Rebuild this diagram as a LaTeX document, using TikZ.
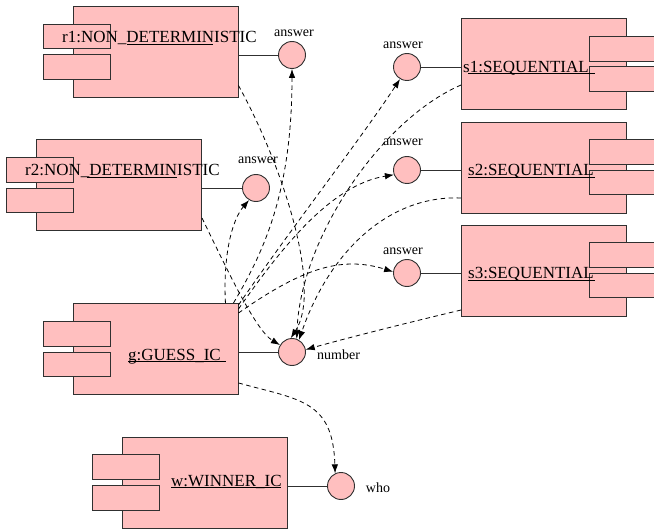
\documentclass[tikz,border=0pt]{standalone}
\usepackage{fontspec}
\setmainfont{Liberation Serif}
\usetikzlibrary{arrows.meta}
\definecolor{compfill}{HTML}{FFBFBF}
\definecolor{edgecol}{HTML}{303030}
\begin{document}
\begin{tikzpicture}[x=1pt,y=-1pt,
 comp/.style={draw=edgecol, fill=compfill, line width=0.9pt, rectangle, inner sep=0pt, minimum width=165pt, minimum height=91pt},
 tab/.style={draw=edgecol, fill=compfill, line width=0.9pt, rectangle, inner sep=0pt, minimum width=67pt, minimum height=24.5pt},
 rtab/.style={tab, minimum width=71pt},
 port/.style={draw=edgecol, fill=compfill, line width=0.9pt, circle, inner sep=0pt, minimum size=27pt},
 lbl/.style={font=\fontsize{17}{20}\selectfont, inner sep=0pt, anchor=base west},
 small/.style={font=\fontsize{14}{16}\selectfont, inner sep=0pt},
 wire/.style={draw=edgecol, line width=0.9pt},
 dep/.style={draw=black, line width=0.8pt, dash pattern=on 4.5pt off 3.5pt, -{Latex[length=9pt,width=6.5pt]}},
 uline/.style={draw=black, line width=0.8pt}]
\useasboundingbox (0,0) rectangle (654,532);
\fill[white] (0,0) rectangle (654,532);

% components
\node[comp] (r1) at (155.5,51.5) {};
\node[tab] (r1a) at (76.5,36.5) {};
\node[tab] (r1b) at (76.5,67) {};
\node[comp] (r2) at (119,185) {};
\node[tab] (r2a) at (40,170) {};
\node[tab] (r2b) at (40,200.5) {};
\node[comp] (s1) at (544,63.5) {};
\node[rtab] (s1a) at (624.5,49) {};
\node[rtab] (s1b) at (624.5,79) {};
\node[comp] (s2) at (544,167.5) {};
\node[rtab] (s2a) at (624.5,152) {};
\node[rtab] (s2b) at (624.5,182.5) {};
\node[comp] (s3) at (544,270.5) {};
\node[rtab] (s3a) at (624.5,255) {};
\node[rtab] (s3b) at (624.5,285.5) {};
\node[comp] (g) at (155.5,349) {};
\node[tab] (ga) at (76.5,334) {};
\node[tab] (gb) at (76.5,364.5) {};
\node[comp] (w) at (204.5,482.5) {};
\node[tab] (wa) at (125.5,467) {};
\node[tab] (wb) at (125.5,498) {};

% labels
\node[lbl] (lr1) at (62,43) {r1:NON\_DETERMINISTIC};
\draw[uline] (127,44) -- (213,44);
\node[lbl] (lr2) at (25,176) {r2:NON\_DETERMINISTIC};
\draw[uline] (87,177) -- (177,177);
\node[lbl] (ls1) at (463,73) {s1:SEQUENTIAL};
\draw[uline] (468,73.5) -- (595,73.5);
\node[lbl] (ls2) at (468,176) {s2:SEQUENTIAL};
\draw[uline] (468,177) -- (595,177);
\node[lbl] (ls3) at (468,279) {s3:SEQUENTIAL};
\draw[uline] (468,280) -- (595,280);
\node[lbl] (lg) at (128,360) {g:GUESS\_IC};
\draw[uline] (128,361) -- (226,361);
\node[lbl] (lw) at (171,486) {w:WINNER\_IC};
\draw[uline] (171,487) -- (281,487);

% ports
\node[port] (pr1) at (292,55) {};
\node[port] (pr2) at (256,188) {};
\node[port] (ps1) at (407,67) {};
\node[port] (ps2) at (407,170) {};
\node[port] (ps3) at (407,273) {};
\node[port] (pnum) at (292,352) {};
\node[port] (pw) at (341,486) {};

\node[small] (tr1) at (294,33) {answer};
\node[small] (tr2) at (258,160) {answer};
\node[small] (ts1) at (403,45) {answer};
\node[small] (ts2) at (403,142) {answer};
\node[small] (ts3) at (403,251) {answer};
\node[small, anchor=west] (tnum) at (317,355) {number};
\node[small] (tw) at (378,488) {who};

% solid wires
\draw[wire] (pr1.west) -- (pr1.west -| r1.east);
\draw[wire] (pr2.west) -- (pr2.west -| r2.east);
\draw[wire] (ps1.east) -- (ps1.east -| s1.west);
\draw[wire] (ps2.east) -- (ps2.east -| s2.west);
\draw[wire] (ps3.east) -- (ps3.east -| s3.west);
\draw[wire] (pnum.west) -- (pnum.west -| g.east);
\draw[wire] (pw.west) -- (pw.west -| w.east);

% dashed dependencies
\draw[dep] ([yshift=12pt]r1.south east) .. controls (285,170) and (322,290) .. (pnum.95);
\draw[dep] ([yshift=13pt]r2.south east) .. controls (225,265) and (255,330) .. (pnum.150);
\draw[dep] ([xshift=-13pt]g.north east) .. controls (223,255) and (232,220) .. (pr2.240);
\draw[dep] ([xshift=-5pt]g.north east) .. controls (265,250) and (292,190) .. (pr1.south);
\draw[dep] ([yshift=-2pt]g.north east) .. controls (290,230) and (360,140) .. (ps1.240);
\draw[dep] ([yshift=-21.5pt]s1.west) .. controls (380,120) and (300,240) .. (pnum.70);
\draw[dep] ([yshift=-6pt]g.north east) .. controls (280,250) and (330,185) .. (ps2.200);
\draw[dep] ([yshift=-30.5pt]s2.west) .. controls (390,195) and (330,250) .. (pnum.60);
\draw[dep] ([yshift=-10pt]g.north east) .. controls (300,270) and (340,255) .. (ps3.175);
\draw[dep] ([yshift=-39.5pt]s3.west) .. controls (390,327) and (340,340) .. (pnum.10);
\draw[dep] ([yshift=12pt]g.south east) .. controls (300,400) and (333,400) .. (pw.115);
\end{tikzpicture}
\end{document}
